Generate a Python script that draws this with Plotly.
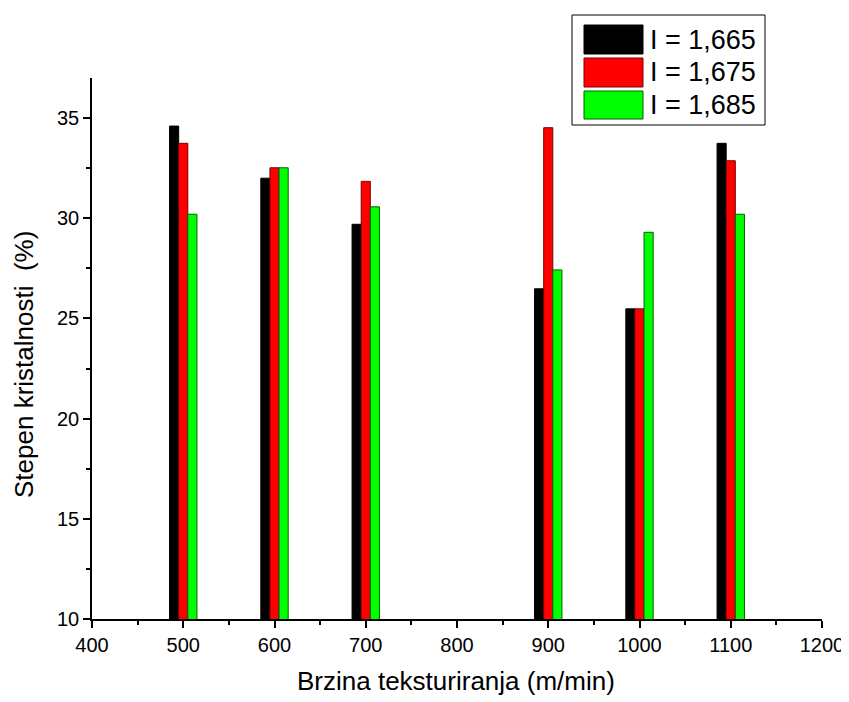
import plotly.graph_objects as go

speeds = [500, 600, 700, 900, 1000, 1100]
series_names = ["I = 1,665", "I = 1,675", "I = 1,685"]
vals_1665 = [34.6, 32.0, 29.7, 26.48, 25.48, 33.74]
vals_1675 = [33.74, 32.52, 31.84, 34.52, 25.48, 32.87]
vals_1685 = [30.2, 32.52, 30.57, 27.42, 29.3, 30.2]
fill_colors = ["#000000", "#ff0000", "#00ff00"]
line_colors = ["#000000", "#7a0000", "#006000"]
x_ticks = [400, 500, 600, 700, 800, 900, 1000, 1100, 1200]
y_ticks = [10, 15, 20, 25, 30, 35]

FONT = "Liberation Sans, Arial, sans-serif"

fig = go.Figure()
for name, vals, fc, lc in zip(series_names, [vals_1665, vals_1675, vals_1685], fill_colors, line_colors):
    fig.add_trace(go.Bar(x=speeds, y=vals, name=name, marker=dict(color=fc, line=dict(color=lc, width=1)),
                         showlegend=False))

fig.update_layout(
    width=841, height=694,
    margin=dict(l=84, r=27, t=70, b=83, autoexpand=False),
    paper_bgcolor="white", plot_bgcolor="white",
    barmode="group", bargap=0.7, bargroupgap=0,
    font=dict(family=FONT, color="black", size=20),
    xaxis=dict(range=[400, 1200], tickvals=x_ticks, ticks="outside", ticklen=7, tickwidth=1.5,
               showline=True, linecolor="black", linewidth=1.5, showgrid=False, zeroline=False, automargin=False,
               ticklabeloverflow="allow",
               tickfont=dict(size=20), minor=dict(dtick=50, ticks="outside", ticklen=4, tickwidth=1.5, tickcolor="black"),
               tickcolor="black"),
    yaxis=dict(range=[10, 37], tickvals=y_ticks, ticks="outside", ticklen=7, tickwidth=1.5,
               showline=True, linecolor="black", linewidth=1.5, showgrid=False, zeroline=False, automargin=False,
               tickfont=dict(size=20), minor=dict(tick0=12.5, dtick=5, ticks="outside", ticklen=4, tickwidth=1.5, tickcolor="black"),
               tickcolor="black"),
)

# helpers: paper coordinates from page pixels
def px_x(p):
    return (p - 92) / 730.0

def px_y(p):
    return (619 - p) / 541.0

# axis titles
fig.add_annotation(text="Brzina teksturiranja (m/min)", xref="paper", yref="paper", x=px_x(456), y=px_y(681),
                   showarrow=False, font=dict(size=26), xanchor="center", yanchor="middle")
fig.add_annotation(text="Stepen kristalnosti  (%)", xref="paper", yref="paper", x=px_x(24), y=px_y(365),
                   showarrow=False, font=dict(size=26), textangle=-90, xanchor="center", yanchor="middle")

# legend box
fig.add_shape(type="rect", xref="paper", yref="paper", x0=px_x(572), x1=px_x(765), y0=px_y(125), y1=px_y(15),
              line=dict(color="black", width=1), fillcolor="white")
rows = [(25, 54), (58, 87), (91, 119)]
for (top, bot), name, fc, lc in zip(rows, series_names, fill_colors, line_colors):
    fig.add_shape(type="rect", xref="paper", yref="paper", x0=px_x(584), x1=px_x(643), y0=px_y(bot), y1=px_y(top),
                  line=dict(color=lc, width=1), fillcolor=fc)
    fig.add_annotation(text=name, xref="paper", yref="paper", x=px_x(648), y=px_y((top + bot) / 2),
                       showarrow=False, font=dict(size=27), xanchor="left", yanchor="middle")

fig.write_html("out.html")
